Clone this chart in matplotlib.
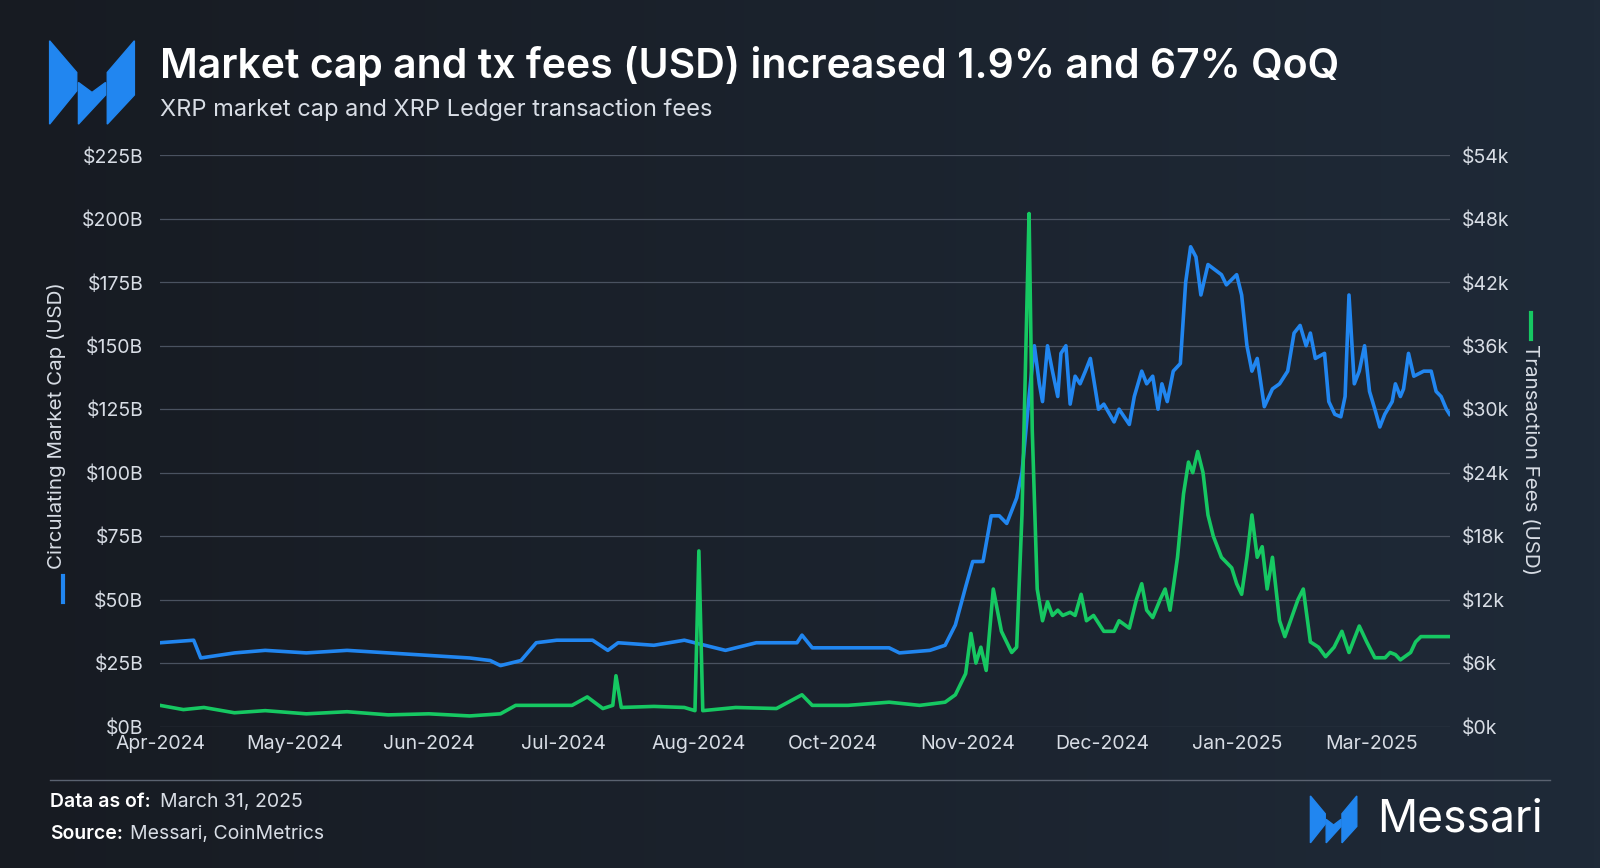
import numpy as np
import matplotlib
matplotlib.use("Agg")
import matplotlib.pyplot as plt
from matplotlib.patches import Polygon
from matplotlib.lines import Line2D

plt.rcParams["font.family"] = "Inter"

# data: x in days since 2024-04-01
cap_days = [0, 9.5, 11.5, 21.1, 29.7, 41.3, 52.8, 64.4, 75.9, 87.4, 93.2, 96.1, 101.9, 106.2, 112, 122.1,
            126.4, 129.3, 139.4, 148, 153.8, 159.6, 168.3, 179.8, 181.2, 184.1, 194.2, 205.8, 208.7, 217.3,
            221.6, 224.5, 227.4, 229.4, 232.3, 234.6, 236.9, 239, 241.8, 243.3, 245.3, 246.8, 248.2, 249.1,
            250.5, 251.9, 253.4, 254.3, 255.7, 256.9, 258.3, 259.7, 261.2, 262.6, 264.9, 266.4, 269.3, 270.7,
            273.6, 275, 277.1, 278.5, 280.2, 281.7, 282.8, 284.3, 286, 288, 289.5, 290.9, 292.4, 293.8, 295.8,
            299.6, 301, 303.9, 305.3, 306.8, 308.2, 309.7, 311.7, 314, 316, 318.3, 320.1, 321.8, 323.5, 324.7,
            326.1, 328.7, 329.9, 331.6, 333.3, 334.5, 335.6, 337.1, 338.5, 340, 341.4, 342.9, 344.3, 345.7,
            347.8, 348.7, 350.1, 351, 352.4, 353.9, 356.7, 358.8, 360.2, 361.6, 363.1, 364]
cap_vals = [33, 34, 27, 29, 30, 29, 30, 29, 28, 27, 26, 24, 26, 33, 34, 34, 30, 33, 32, 34, 32, 30, 33, 33, 36,
            31, 31, 31, 29, 30, 32, 40, 55, 65, 65, 83, 83, 80, 90, 100, 130, 150, 135, 128, 150, 140, 130, 147,
            150, 127, 138, 135, 140, 145, 125, 127, 120, 125, 119, 130, 140, 135, 138, 125, 135, 128, 140, 143,
            175, 189, 185, 170, 182, 178, 174, 178, 170, 150, 140, 145, 126, 133, 135, 140, 155, 158, 150, 155,
            145, 147, 128, 123, 122, 130, 170, 135, 140, 150, 132, 125, 118, 123, 128, 135, 130, 133, 147, 138,
            140, 140, 132, 130, 125, 123]

fee_days = [0, 6.6, 12.4, 21, 29.7, 41.3, 52.8, 64.4, 75.9, 87.4, 96.1, 100.4, 107.6, 116.3, 120.6, 125, 127.8,
            128.7, 130.2, 139.4, 148, 151, 152.1, 153.2, 162.5, 174, 181.2, 184.1, 194.2, 205.8, 214.4, 221.6,
            224.5, 227.4, 228.9, 230.3, 231.7, 233.2, 235.2, 237.5, 240.4, 241.8, 243.3, 244.7, 245.3, 246.2,
            247.6, 249.1, 250.5, 251.9, 253.4, 254.8, 256.9, 258.3, 260, 261.5, 263.5, 266.4, 269.3, 270.7,
            273.6, 275.6, 277.1, 278.5, 280.2, 282.3, 283.7, 285.1, 287.2, 288.9, 290.3, 291.5, 292.9, 294.4,
            295.8, 297.3, 299.6, 302.5, 303.9, 305.3, 306.8, 308.2, 309.7, 311.1, 312.5, 314, 316, 317.5, 321.2,
            322.7, 324.7, 327, 329, 331.4, 333.6, 335.6, 338.5, 340.6, 342.9, 345.8, 347.2, 348.7, 350.1, 353,
            354.4, 355.9, 358.8, 364]
fee_vals = [2.0, 1.6, 1.8, 1.3, 1.5, 1.2, 1.4, 1.1, 1.2, 1.0, 1.2, 2.0, 2.0, 2.0, 2.8, 1.7, 2.0, 4.8, 1.8, 1.9,
            1.8, 1.5, 16.6, 1.5, 1.8, 1.7, 3.0, 2.0, 2.0, 2.3, 2.0, 2.3, 3.0, 5.0, 8.8, 6.0, 7.5, 5.3, 13.0, 9.0,
            7.0, 7.5, 20, 40, 48.5, 28, 13, 10, 11.8, 10.5, 11.0, 10.5, 10.8, 10.5, 12.5, 10.0, 10.5, 9.0, 9.0,
            10.0, 9.3, 12, 13.5, 11, 10.3, 12, 13, 11, 16, 22, 25, 24, 26, 24, 20, 18, 16, 15, 13.5, 12.5, 16,
            20, 16, 17, 13, 16, 10, 8.5, 12, 13, 8, 7.5, 6.6, 7.5, 9, 7, 9.5, 8, 6.5, 6.5, 7, 6.8, 6.3, 7, 8,
            8.5, 8.5, 8.5]

tick_days = [0, 38, 76, 114, 152, 190, 228, 266, 304, 342]
tick_labels = ["Apr-2024", "May-2024", "Jun-2024", "Jul-2024", "Aug-2024", "Oct-2024",
               "Nov-2024", "Dec-2024", "Jan-2025", "Mar-2025"]
cap_ticks = [0, 25, 50, 75, 100, 125, 150, 175, 200, 225]
fee_ticks = [0, 6, 12, 18, 24, 30, 36, 42, 48, 54]

BLUE = "#2186f0"
GREEN = "#16c862"
TXT = "#d8dde5"

fig = plt.figure(figsize=(16, 8.68), dpi=100)
# dark gradient background
bg = fig.add_axes([0, 0, 1, 1], zorder=-10)
grad = np.linspace(0, 1, 256)[None, :]
bg.imshow(grad, aspect="auto", extent=[0, 1, 0, 1],
          cmap=matplotlib.colors.LinearSegmentedColormap.from_list("g", ["#171b22", "#1f2a38"]))
bg.axis("off")

ax = fig.add_axes([0.100, 0.163, 0.806, 0.658])
ax.set_facecolor("none")
ax2 = ax.twinx()

ax.plot(cap_days, cap_vals, color=BLUE, lw=2.6, zorder=3)
ax2.plot(fee_days, fee_vals, color=GREEN, lw=2.6, zorder=4)

ax.set_xlim(0, 364)
ax.set_ylim(0, 225)
ax2.set_ylim(0, 54)
ax.set_yticks(cap_ticks)
ax.set_yticklabels([f"${v}B" for v in cap_ticks])
ax2.set_yticks(fee_ticks)
ax2.set_yticklabels([f"${v}k" for v in fee_ticks])
ax.set_xticks(tick_days)
ax.set_xticklabels(tick_labels)
ax.grid(axis="y", color="#4a5260", lw=0.9)
for a in (ax, ax2):
    for s in a.spines.values():
        s.set_visible(False)
    a.tick_params(length=0, colors=TXT, labelsize=14)
ax.tick_params(axis="y", pad=12)
ax2.tick_params(axis="y", pad=9)
ax.tick_params(axis="x", pad=6)

ax.set_ylabel("Circulating Market Cap (USD)", color=TXT, fontsize=14.8)
ax.yaxis.set_label_coords(-0.073, 0.527)
ax2.set_ylabel("Transaction Fees (USD)", color=TXT, fontsize=14.8, rotation=270, va="center")
ax2.yaxis.set_label_coords(1.062, 0.468)
fig.add_artist(Line2D([0.0395, 0.0395], [0.307, 0.336], color=BLUE, lw=3))
fig.add_artist(Line2D([0.957, 0.957], [0.609, 0.639], color=GREEN, lw=3))

# title block
fig.text(0.100, 0.924, "Market cap and tx fees (USD) increased 1.9% and 67% QoQ",
         color="white", fontsize=29.5, fontweight="semibold", va="center")
fig.text(0.100, 0.874, "XRP market cap and XRP Ledger transaction fees",
         color=TXT, fontsize=17, va="center")


def logo(x0, y0, w, h):
    # three slanted blocks like the Messari mark
    def P(pts):
        fig.add_artist(Polygon([(x0 + px * w, y0 + py * h) for px, py in pts],
                               closed=True, color=BLUE, transform=fig.transFigure))
    P([(0, 0), (0, 1), (0.32, 0.62), (0.32, 0.4)])
    P([(0.34, 0.0), (0.34, 0.5), (0.5, 0.38), (0.66, 0.5), (0.66, 0.35)])
    P([(1, 1), (1, 0.35), (0.68, 0.0), (0.68, 0.62)])


logo(0.031, 0.857, 0.053, 0.096)
logo(0.819, 0.029, 0.029, 0.054)
fig.text(0.861, 0.056, "Messari", color="white", fontsize=32, va="center")

fig.add_artist(Line2D([0.031, 0.969], [0.101, 0.101], color="#5a6270", lw=1))
fig.text(0.031, 0.076, "Data as of:", color="white", fontsize=14, fontweight="semibold", va="center")
fig.text(0.1, 0.076, "March 31, 2025", color=TXT, fontsize=14, va="center")
fig.text(0.031, 0.039, "Source:", color="white", fontsize=14, fontweight="semibold", va="center")
fig.text(0.081, 0.039, "Messari, CoinMetrics", color=TXT, fontsize=14, va="center")

fig.savefig("out.png", dpi=100)
